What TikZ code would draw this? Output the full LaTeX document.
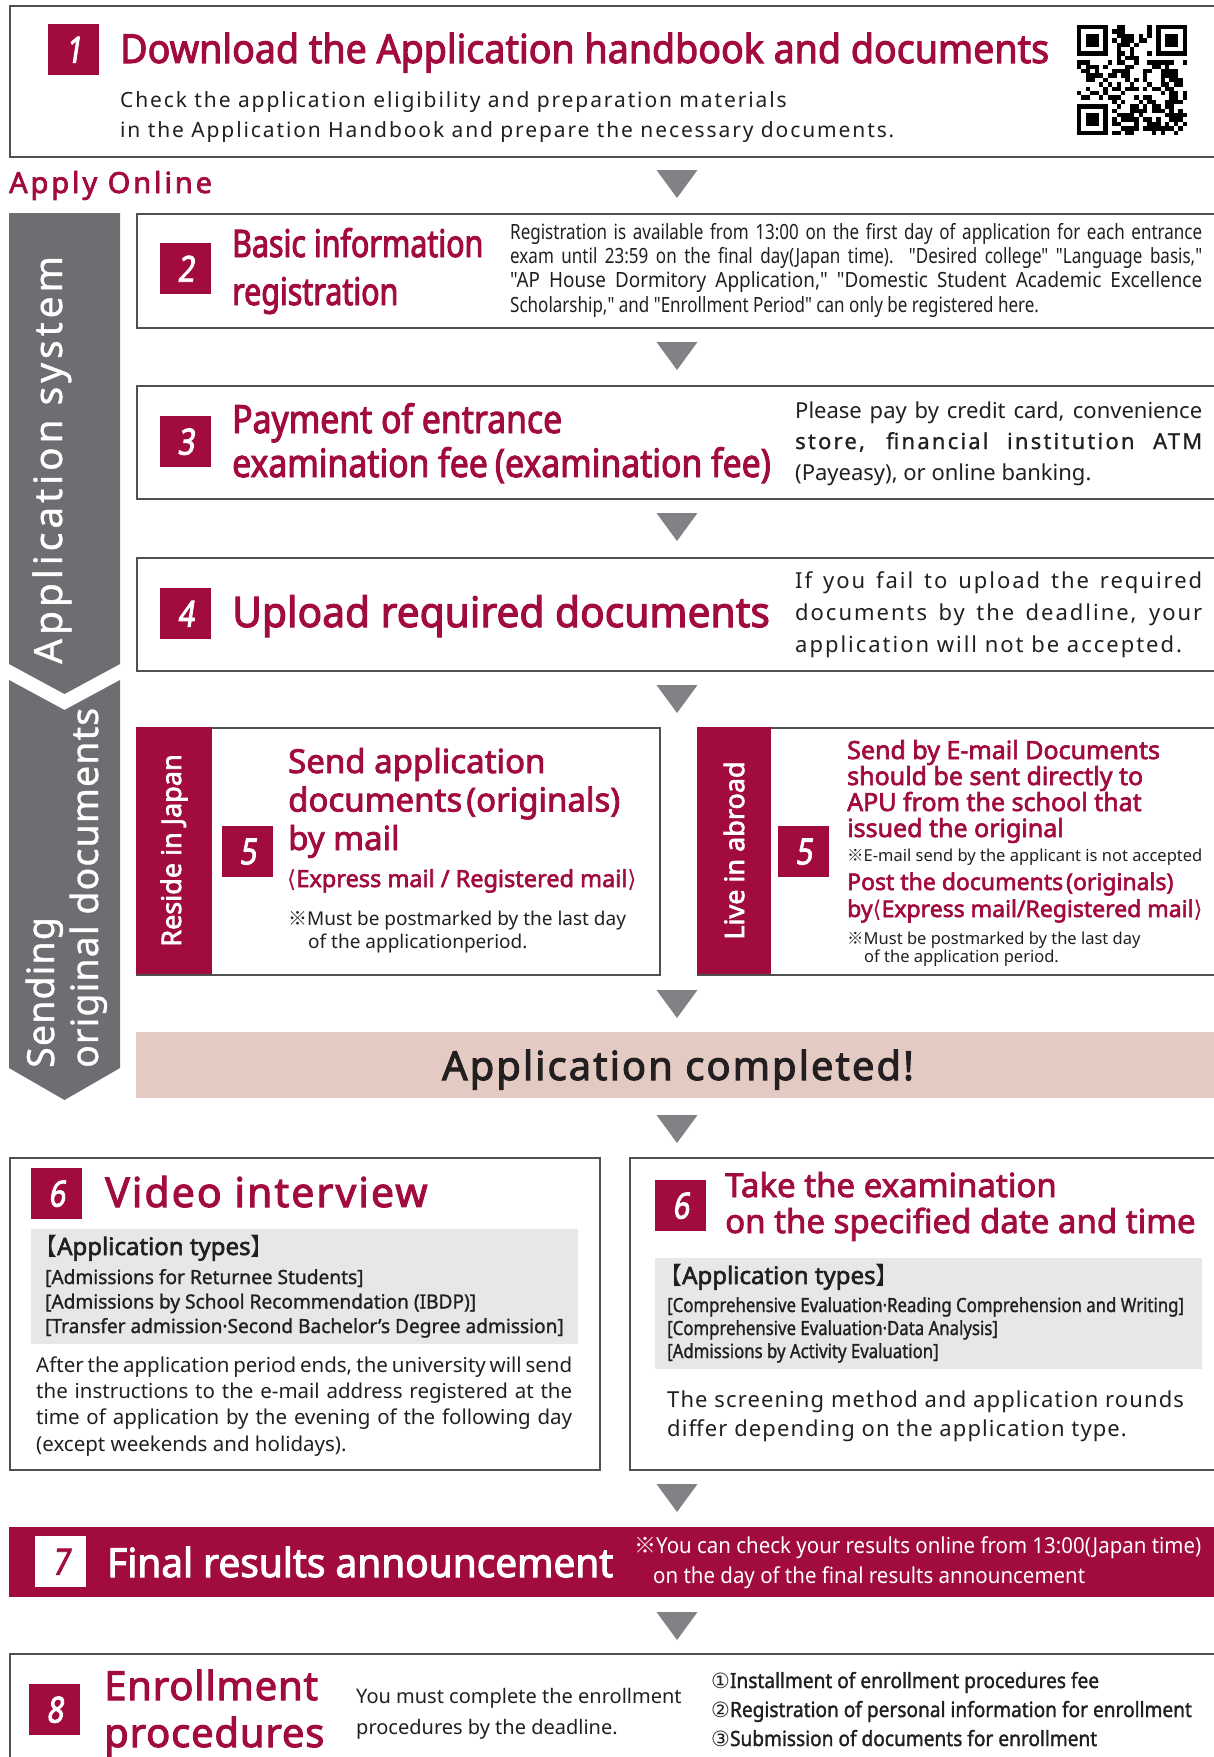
\documentclass[tikz,border=0pt]{standalone}
\usepackage{fontspec}
\setmainfont{Noto Sans}
\newfontfamily\cjk{Noto Sans CJK JP}
\newfontfamily\dvs{DejaVu Sans}
% heavy faces (bold made by FakeBold)
\newfontfamily\numfont[FakeStretch=0.8, FakeBold=2.5, FakeSlant=0.15]{Noto Sans}
\newfontfamily\hA[FakeStretch=0.94, FakeBold=2.5]{Noto Sans}
\newfontfamily\hB[FakeStretch=0.8, FakeBold=2.5]{Noto Sans}
\newfontfamily\hC[FakeStretch=0.865, FakeBold=2.5]{Noto Sans}
\newfontfamily\hD[FakeStretch=0.97, FakeBold=2.5]{Noto Sans}
\newfontfamily\hE[FakeBold=2.5]{Noto Sans}
\newfontfamily\hT[FakeBold=2.5, LetterSpace=2]{Noto Sans}
\newfontfamily\hS[FakeBold=2.5, LetterSpace=5]{Noto Sans}
\newfontfamily\hW[FakeBold=2.5, LetterSpace=10]{Noto Sans}
% medium faces
\newfontfamily\mA[FakeStretch=0.98, FakeBold=1.2]{Noto Sans}
\newfontfamily\mB[FakeStretch=0.86, FakeBold=1.2]{Noto Sans}
\newfontfamily\mC[FakeStretch=0.91, FakeBold=1.5]{Noto Sans}
% body faces
\newfontfamily\bodyN[FakeStretch=0.81]{Noto Sans}
\newfontfamily\bodyW[FakeStretch=0.9]{Noto Sans}
\newfontfamily\bodyM[FakeStretch=0.93]{Noto Sans}
\newfontfamily\bandA[LetterSpace=10, FakeBold=1]{Noto Sans}
\newfontfamily\bandB[LetterSpace=3, FakeBold=1]{Noto Sans}
\newfontfamily\spacedB[LetterSpace=9]{Noto Sans}
\newfontfamily\spacedC[LetterSpace=5]{Noto Sans}
\usepackage{tikz}
\usetikzlibrary{positioning}
\usepackage{xcolor}
\definecolor{apured}{HTML}{A20B3F}
\definecolor{bandgray}{HTML}{6D6E71}
\definecolor{arrowgray}{HTML}{808285}
\definecolor{donepink}{HTML}{E3CBC4}
\definecolor{typegray}{HTML}{E6E7E8}
\definecolor{framegray}{HTML}{505052}
\definecolor{textblack}{HTML}{231F20}
\newcommand\setfs[2]{\fontsize{#1}{#2}\selectfont}
\newcommand\jline[2]{\makebox[#1][s]{#2}}

\begin{document}
\begin{tikzpicture}[x=1pt, y=-1pt,
    box/.style={draw=framegray, line width=1.8pt, fill=white, anchor=north west, inner sep=0pt},
    numbox/.style={fill=apured, text=white, anchor=north west, minimum size=51pt, inner sep=0pt,
      font=\numfont\setfs{36}{36}},
    band/.style={fill=apured, text=white, rotate=90, minimum width=247pt, inner sep=0pt,
      font=\hE\setfs{27}{27}},
    shade/.style={fill=typegray, anchor=north west, inner sep=0pt},
    txt/.style={anchor=base west, inner sep=0pt, align=left, text=textblack},
    ttl/.style={txt, text=apured}]
    \useasboundingbox (0,0) rectangle (1214,1757);

    % Side bands
    \fill[bandgray] (9,213) -- (120,213) -- (120,664) -- (64.5,694) -- (9,664) -- cycle;
    \fill[bandgray] (9,680) -- (64.5,710) -- (120,680) -- (120,1068) -- (64.5,1100) -- (9,1068) -- cycle;
    \node[txt, rotate=90, text=white, font=\bandA\setfs{39}{39}] (sysband) at (62,664) {Application system};
    \node[txt, rotate=90, text=white, font=\bandB\setfs{37.5}{44}] (sendband) at (98,1068) {Sending\\original documents};

    % Step 1
    \node[box, minimum width=1216pt, minimum height=151pt] (step1) at (9,5) {};
    \node[numbox] (num1) at (48,24) {1};
    \node[ttl, font=\hA\setfs{40}{40}] (title1) at (120,63) {Download the Application handbook and documents};
    \node[txt, font=\spacedB\setfs{21}{30}] (text1) at (120,137)
      {Check the application eligibility and preparation materials\\in the Application Handbook and prepare the necessary documents.};
    \begin{scope}[shift={(1077,25)}]
      \pgfmathsetseed{42}
      \foreach \i in {0,...,24}
        \foreach \j in {0,...,24} {
          \pgfmathrandominteger{\q}{0}{1}
          \ifnum\q=1 \fill (\i*4.4,\j*4.4) rectangle ++(4.4,4.4); \fi
        }
      \foreach \fx/\fy/\cx/\cy in {0/0/0/0, 18/0/17/0, 0/18/0/17} {
        \fill[white] (\cx*4.4,\cy*4.4) rectangle ++(35.2,35.2);
        \fill (\fx*4.4,\fy*4.4) rectangle ++(30.8,30.8);
        \fill[white] (\fx*4.4+4.4,\fy*4.4+4.4) rectangle ++(22,22);
        \fill (\fx*4.4+8.8,\fy*4.4+8.8) rectangle ++(13.2,13.2);
      }
    \end{scope}
    \node[ttl, font=\hW\setfs{29}{29}] (online) at (9,193) {Apply Online};

    % Step 2
    \node[box, minimum width=1089pt, minimum height=114pt] (step2) at (136,213) {};
    \node[numbox] (num2) at (160,243) {2};
    \node[ttl, font=\hB\setfs{38}{48}] (title2) at (232,305) {Basic information\\registration};
    \node[txt, font=\bodyN\setfs{21}{24.2}] (text2) at (510,312)
      {\jline{692pt}{Registration is available from 13:00 on the first day of application for each entrance}\\
       \jline{692pt}{exam until 23:59 on the final day(Japan time). "Desired college" "Language basis,"}\\
       \jline{692pt}{\bodyW "AP House Dormitory Application," "Domestic Student Academic Excellence}\\
       Scholarship," and "Enrollment Period" can only be registered here.};

    % Step 3
    \node[box, minimum width=1089pt, minimum height=113pt] (step3) at (136,385) {};
    \node[numbox] (num3) at (160,416) {3};
    \node[ttl, font=\hC\setfs{39}{44}] (title3) at (232,477) {Payment of entrance\\examination fee\hspace{7pt}(examination fee)};
    \node[txt, font=\setfs{22}{31}] (text3) at (795,480)
      {\jline{407pt}{Please pay by credit card, convenience}\\
       \jline{407pt}{\bandA store, financial institution ATM}\\
       (Payeasy), or online banking.};

    % Step 4
    \node[box, minimum width=1089pt, minimum height=113pt] (step4) at (136,557) {};
    \node[numbox] (num4) at (160,588) {4};
    \node[ttl, font=\hD\setfs{42}{42}] (title4) at (232,627) {Upload required documents};
    \node[txt, font=\spacedB\setfs{22}{32}] (text4) at (795,652)
      {\jline{407pt}{If you fail to upload the required}\\
       \jline{407pt}{documents by the deadline, your}\\
       application will not be accepted.};

    % Step 5
    \node[box, minimum width=523pt, minimum height=247pt] (mailjp) at (136,727) {};
    \node[band, minimum height=76pt] (jpband) at (174,850.5) {Reside in Japan};
    \node[numbox] (num5a) at (222,826) {5};
    \node[ttl, font=\hE\setfs{33}{38.5}] (title5a) at (288,850) {Send application\\documents\hspace{4pt}(originals)\\by mail};
    \node[ttl, font=\hE\setfs{23.5}{23.5}] (post5a) at (287,887) {{\dvs ⟨}Express mail / Registered mail{\dvs ⟩}};
    \node[txt, font=\setfs{19}{23}] (note5a) at (288,948) {{\cjk ※}Must be postmarked by the last day\\\hspace*{20pt}of the applicationperiod.};

    \node[box, minimum width=528pt, minimum height=247pt] (mailab) at (697,727) {};
    \node[band, minimum height=74pt] (abband) at (734,850.5) {Live in abroad};
    \node[numbox] (num5b) at (778,826) {5};
    \node[ttl, font=\hE\setfs{25}{26}] (title5b) at (847,837)
      {Send by E-mail Documents\\should be sent directly to\\APU from the school that\\issued the original};
    \node[txt, font=\setfs{16.5}{16.5}] (email5b) at (847,861) {{\cjk ※}E-mail send by the applicant is not accepted};
    \node[ttl, font=\hE\setfs{23}{27}] (post5b) at (847,917) {Post the documents\hspace{3pt}(originals)\\by{\dvs ⟨}Express mail/Registered mail{\dvs ⟩}};
    \node[txt, font=\setfs{16.5}{18}] (note5b) at (847,962) {{\cjk ※}Must be postmarked by the last day\\\hspace*{17pt}of the application period.};

    % Completed
    \node[fill=donepink, anchor=north west, minimum width=1089pt, minimum height=66pt, inner sep=0pt] (done) at (136,1032) {};
    \node[txt, anchor=base, font=\hS\setfs{40}{40}] (donetext) at (678,1080) {Application completed!};

    % Step 6
    \node[box, minimum width=590pt, minimum height=312pt] (video) at (9,1157) {};
    \node[numbox] (num6a) at (31,1168) {6};
    \node[ttl, font=\hS\setfs{41}{41}] (title6a) at (105,1207) {Video interview};
    \node[shade, minimum width=547pt, minimum height=115pt] (types6a) at (31,1229) {};
    \node[txt, font=\hE\setfs{24}{24}] (head6a) at (33,1255) {{\cjk 【}Application types{\cjk 】}};
    \node[txt, font=\mA\setfs{19.5}{24.5}] (list6a) at (45,1333)
      {{[}Admissions for Returnee Students{]}\\{[}Admissions by School Recommendation (IBDP){]}\\{[}Transfer admission·Second Bachelor’s Degree admission{]}};
    \node[txt, text width=536pt, align=justify, font=\setfs{20.5}{26.4}] (text6a) at (36,1372)
      {After the application period ends, the university will send\linebreak the instructions to the e-mail address registered at the\linebreak time of application by the evening of the following day\linebreak (except weekends and holidays).};

    \node[box, minimum width=596pt, minimum height=312pt] (exam) at (629,1157) {};
    \node[numbox] (num6b) at (655,1180) {6};
    \node[ttl, font=\hE\setfs{33}{36}] (title6b) at (725,1233) {Take the examination\\on the specified date and time};
    \node[shade, minimum width=547pt, minimum height=111pt] (types6b) at (655,1258) {};
    \node[txt, font=\hE\setfs{24}{24}] (head6b) at (658,1284) {{\cjk 【}Application types{\cjk 】}};
    \node[txt, font=\mB\setfs{19.5}{23}] (list6b) at (667,1358)
      {{[}Comprehensive Evaluation·Reading Comprehension and Writing{]}\\{[}Comprehensive Evaluation·Data Analysis{]}\\{[}Admissions by Activity Evaluation{]}};
    \node[txt, font=\spacedC\setfs{22}{29}] (text6b) at (667,1436)
      {The screening method and application rounds\\differ depending on the application type.};

    % Step 7
    \node[fill=apured, anchor=north west, minimum width=1216pt, minimum height=70pt, inner sep=0pt] (result) at (9,1527) {};
    \node[numbox, fill=white, text=apured] (num7) at (35,1536) {7};
    \node[txt, text=white, font=\hD\setfs{40}{40}] (title7) at (107,1577) {Final results announcement};
    \node[txt, text=white, font=\bodyM\setfs{22}{30}] (note7) at (634,1583)
      {{\cjk ※}You can check your results online from 13:00(Japan time)\\\hspace*{19pt}on the day of the final results announcement};

    % Step 8
    \node[box, minimum width=1216pt, minimum height=150pt] (enrol) at (9,1653) {};
    \node[numbox] (num8) at (29,1684) {8};
    \node[ttl, font=\hT\setfs{40}{47}] (title8) at (104,1747) {Enrollment\\procedures};
    \node[txt, font=\setfs{20}{31}] (text8) at (356,1734) {You must complete the enrollment\\procedures by the deadline.};
    \node[txt, font=\mC\setfs{21}{29}] (list8) at (711,1746)
      {{\dvs ①}Installment of enrollment procedures fee\\{\dvs ②}Registration of personal information for enrollment\\{\dvs ③}Submission of documents for enrollment};

    % Arrows
    \foreach \ty in {170,342,513,685,990,1115,1484,1612}
      \fill[arrowgray] (656.5,\ty) -- (697.5,\ty) -- (677,\ty+28) -- cycle;
\end{tikzpicture}
\end{document}
